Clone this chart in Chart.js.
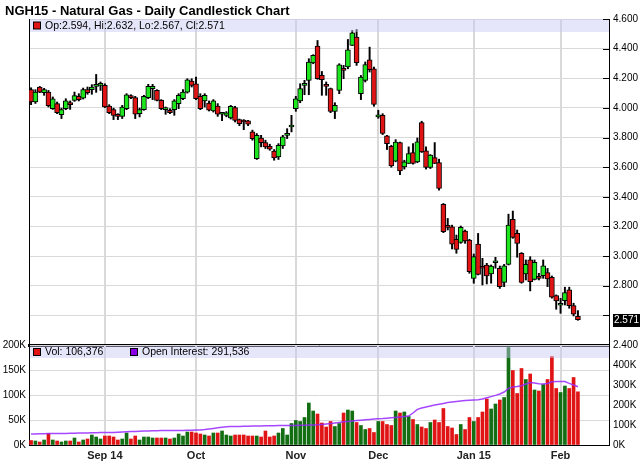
<!DOCTYPE html>
<html>
<head>
<meta charset="utf-8">
<title>NGH15 - Natural Gas - Daily Candlestick Chart</title>
<script src="https://cdn.jsdelivr.net/npm/chart.js@4.4.1/dist/chart.umd.min.js"></script>
<style>
  body { margin: 0; background: #fff; }
  #wrap { position: relative; width: 642px; height: 465px; }
  #wrap canvas { position: absolute; left: 0; top: 0; }
  #title { position: absolute; left: 5px; top: 3px; font: bold 13px "Liberation Sans", Arial, sans-serif; color: #000; white-space: nowrap; }
</style>
</head>
<body>
<div id="wrap">
  <canvas id="price" width="642" height="465"></canvas>
  <canvas id="vol" width="642" height="465"></canvas>
  <div id="title">NGH15 - Natural Gas - Daily Candlestick Chart</div>
</div>
<script>
/*- DATA (one entry per trading day, Aug 2014 .. Feb 6 2015)
-----------------------------------------------------------------------*/
const open = [
  4.123,4.040,4.141,4.103,4.107,3.995,4.029,3.955,3.995,4.035,
  4.051,4.078,4.065,4.123,4.123,4.145,4.152,4.152,4.013,3.988,
  3.950,3.943,3.995,4.078,4.069,3.961,3.988,4.069,4.130,4.119,
  4.051,3.988,3.984,3.988,4.029,4.062,4.107,4.181,4.163,4.078,
  4.047,4.033,3.979,4.013,3.957,3.950,3.932,4.002,3.921,3.916,
  3.912,3.838,3.658,3.797,3.766,3.741,3.708,3.670,3.743,3.815,
  3.871,3.995,4.047,4.152,4.186,4.303,4.417,4.220,4.157,4.130,
  3.977,4.118,4.264,4.276,4.421,4.478,4.096,4.186,4.325,4.264,
  3.939,3.950,3.811,3.741,3.640,3.766,3.602,3.625,3.699,3.636,
  3.901,3.710,3.598,3.665,3.631,3.349,3.203,3.198,3.113,3.093,
  3.169,3.108,2.850,3.081,2.925,2.940,2.880,2.955,2.918,2.823,
  2.944,3.248,3.153,3.019,2.879,2.974,2.843,2.861,2.868,2.888,
  2.857,2.734,2.668,2.700,2.772,2.666,2.594
];
const high = [
  4.136,4.123,4.145,4.132,4.118,4.074,4.040,3.999,4.062,4.047,
  4.107,4.096,4.134,4.141,4.157,4.226,4.175,4.163,4.022,3.999,
  3.961,4.017,4.096,4.089,4.078,3.999,4.085,4.159,4.159,4.123,
  4.056,4.006,3.995,4.056,4.096,4.123,4.197,4.197,4.208,4.096,
  4.096,4.047,4.056,4.029,3.968,3.975,4.017,4.011,3.925,3.921,
  3.916,3.850,3.827,3.815,3.782,3.755,3.719,3.759,3.815,3.860,
  3.950,4.078,4.163,4.186,4.332,4.359,4.455,4.246,4.175,4.134,
  4.035,4.298,4.287,4.462,4.523,4.529,4.219,4.310,4.410,4.276,
  3.984,3.961,3.815,3.748,3.786,3.770,3.647,3.737,3.759,3.797,
  3.910,3.737,3.685,3.766,3.654,3.355,3.254,3.209,3.142,3.203,
  3.176,3.113,3.014,3.153,2.985,2.951,2.940,2.992,2.933,2.944,
  3.283,3.304,3.176,3.024,2.974,2.996,2.974,2.884,2.974,2.917,
  2.866,2.738,2.715,2.790,2.790,2.682,2.632
];
const low = [
  4.022,4.030,4.103,4.085,4.006,3.990,3.961,3.928,3.988,3.990,
  4.044,4.047,4.060,4.092,4.092,4.105,4.118,4.002,3.961,3.921,
  3.921,3.928,3.988,4.062,3.928,3.939,3.984,4.062,4.056,4.047,
  3.988,3.957,3.961,3.950,3.995,4.056,4.100,4.141,4.056,3.988,
  4.006,3.979,3.972,3.943,3.914,3.940,3.925,3.905,3.880,3.853,
  3.880,3.782,3.652,3.737,3.726,3.714,3.647,3.652,3.726,3.793,
  3.838,3.977,4.035,4.089,4.089,4.298,4.193,4.085,4.085,3.968,
  3.928,4.096,4.197,4.264,4.421,4.287,4.056,4.175,4.242,4.011,
  3.930,3.820,3.719,3.600,3.636,3.550,3.587,3.625,3.620,3.630,
  3.699,3.587,3.591,3.625,3.445,3.158,3.176,3.048,3.019,3.086,
  3.086,2.884,2.817,2.873,2.805,2.812,2.817,2.918,2.782,2.794,
  2.940,3.120,2.992,2.817,2.839,2.765,2.839,2.839,2.850,2.794,
  2.716,2.641,2.614,2.670,2.648,2.596,2.567
];
const close = [
  4.040,4.107,4.107,4.123,4.015,4.062,3.968,3.988,4.047,4.022,
  4.083,4.056,4.123,4.103,4.141,4.156,4.163,4.006,3.968,3.950,
  3.943,4.006,4.089,4.069,3.957,3.988,4.078,4.145,4.145,4.051,
  3.995,3.999,3.968,4.047,4.085,4.107,4.190,4.152,4.062,3.995,
  4.085,3.984,4.047,3.957,3.963,3.966,4.011,3.916,3.894,3.905,
  3.890,3.793,3.815,3.766,3.737,3.721,3.663,3.748,3.804,3.827,
  3.882,4.062,4.130,4.163,4.309,4.354,4.197,4.190,4.145,3.977,
  4.017,4.291,4.253,4.392,4.507,4.305,4.208,4.293,4.258,4.024,
  3.950,3.827,3.759,3.609,3.770,3.575,3.636,3.692,3.625,3.771,
  3.703,3.598,3.681,3.625,3.456,3.164,3.194,3.081,3.045,3.194,
  3.102,2.895,2.996,2.877,2.918,2.866,2.933,2.957,2.794,2.935,
  3.209,3.126,3.086,2.823,2.945,2.828,2.958,2.850,2.935,2.846,
  2.722,2.698,2.682,2.754,2.666,2.608,2.571
];
// volume and open interest, in thousands of contracts
const volume = [
  9,8,6,10,23,10,8,6,8,8,
  14,6,10,12,20,16,12,18,18,16,
  10,12,24,12,18,10,16,16,14,14,
  14,14,12,14,22,18,26,26,24,22,
  20,18,24,24,28,20,18,20,20,20,
  18,18,18,16,28,16,18,24,33,20,
  43,49,47,55,84,68,62,44,36,47,
  37,43,64,70,68,45,39,31,33,25,
  47,47,41,39,68,64,66,57,51,41,
  36,33,45,50,45,73,37,34,21,41,
  31,55,47,55,66,92,72,82,90,95,
  195,149,103,153,131,142,110,108,121,131,
  177,113,105,118,113,135,106.376
];
const openInt = [
  55,55,56,56,57,57,58,58,58,59,
  59,60,60,60,61,61,62,62,62,63,
  64,65,66,67,68,69,70,70,71,71,
  72,72,72,73,73,73,74,74,75,75,
  77,80,83,86,89,91,92,93,93,94,
  94,95,95,95,96,96,96,97,97,97,
  98,98,99,99,100,100,101,103,105,107,
  110,113,116,118,120,122,124,126,128,130,
  131,132,134,136,138,140,142,145,160,178,
  185,190,195,200,204,208,212,215,218,220,
  222,224,225,226,230,236,242,248,255,265,
  283,290,292,296,305,312,310,306,305,308,
  316,318,318,317,308,300,291.536
];
// month ticks: index of the first trading day and its label
const tickIndex = [17, 38, 61, 80, 102, 122];
const tickLabels = ['Sep 14', 'Oct', 'Nov', 'Dec', 'Jan 15', 'Feb'];

/*- STYLE
-----------------------------------------------------------------------*/
const UP = '#1ee61e';
const DOWN = '#e01414';
const VOL_UP = '#136e13';
const VOL_DOWN = '#e01414';
const OI_COLOR = 'rgba(150,40,255,0.85)';
const GRID = '#d9d9d9';
const BAND = 'rgba(200,200,246,0.45)';
const FONT = '"Liberation Sans", Arial, sans-serif';
const X_MIN = -0.48, X_MAX = 133.16;

Chart.defaults.font.family = FONT;
Chart.defaults.color = '#000';

const last = close.length - 1;
const idx = close.map((_, i) => i);

function legendSquare(ctx, x, y, color) {
  ctx.fillStyle = '#000';
  ctx.fillRect(x, y - 4, 8, 8);
  ctx.fillStyle = color;
  ctx.fillRect(x + 1, y - 3, 6, 6);
}

const monthTicks = s => { s.ticks = tickIndex.map(v => ({ value: v })); };

/*- PRICE PANEL
-----------------------------------------------------------------------*/
const priceDecor = {
  id: 'priceDecor',
  afterDatasetsDraw(chart) {
    const { ctx, chartArea: a, scales } = chart;
    ctx.save();
    ctx.fillStyle = BAND;
    ctx.fillRect(a.left + 1, a.top, a.right - a.left - 1, 13);
    legendSquare(ctx, a.left + 4, a.top + 6.5, DOWN);
    ctx.fillStyle = '#000';
    ctx.font = '10.5px ' + FONT;
    ctx.textBaseline = 'middle';
    ctx.fillText('Op:' + open[last].toFixed(3) + ', Hi:' + high[last].toFixed(3) +
      ', Lo:' + low[last].toFixed(3) + ', Cl:' + close[last].toFixed(3), a.left + 16, a.top + 7);
    // short tick marks inside the right edge
    ctx.strokeStyle = '#000';
    ctx.lineWidth = 1;
    ctx.beginPath();
    scales.y.ticks.forEach(t => {
      const py = Math.round(scales.y.getPixelForValue(t.value)) + 0.5;
      ctx.moveTo(a.right - 6, py);
      ctx.lineTo(a.right, py);
    });
    ctx.stroke();
    // last price box
    const py = scales.y.getPixelForValue(close[last]);
    ctx.fillStyle = '#000';
    ctx.fillRect(a.right + 4, Math.round(py) - 6, 27, 13);
    ctx.fillStyle = '#fff';
    ctx.font = '10px ' + FONT;
    ctx.fillText(close[last].toFixed(3), a.right + 5, Math.round(py) + 0.5);
    ctx.restore();
  }
};

new Chart(document.getElementById('price'), {
  type: 'bar',
  data: {
    datasets: [
      {
        label: 'range',
        data: idx.map(i => ({ x: i, y: [low[i], high[i]] })),
        backgroundColor: '#000',
        barThickness: 1.3,
        grouped: false,
        yAxisID: 'y',
        order: 2
      },
      {
        label: 'body',
        data: idx.map(i => ({ x: i, y: [open[i], close[i]] })),
        backgroundColor: idx.map(i => close[i] >= open[i] ? UP : DOWN),
        borderColor: '#000',
        borderWidth: 1,
        borderSkipped: false,
        barThickness: 5,
        minBarLength: 2,
        grouped: false,
        yAxisID: 'y',
        order: 1
      }
    ]
  },
  options: {
    responsive: false,
    animation: false,
    layout: { padding: { top: 19, bottom: 120, left: 0, right: 0 } },
    plugins: { legend: { display: false }, tooltip: { enabled: false } },
    scales: {
      x: {
        type: 'linear', min: X_MIN, max: X_MAX, offset: false,
        afterBuildTicks: monthTicks,
        afterFit: s => { s.height = 0; },
        ticks: { display: false, autoSkip: false },
        grid: { color: GRID, lineWidth: 2, drawTicks: false, offset: false },
        border: { color: '#000', width: 3 }
      },
      y: {
        position: 'right', min: 2.4, max: 4.6,
        afterFit: s => { s.width = 33; },
        ticks: {
          stepSize: 0.2, padding: 4, font: { size: 10 },
          callback: v => Math.abs(v - close[last]) < 0.06 ? '' : Number(v).toFixed(3)
        },
        grid: { color: GRID, drawTicks: false },
        border: { color: '#000' }
      },
      yl: {
        position: 'left', display: true,
        afterFit: s => { s.width = 29; },
        ticks: { display: false },
        grid: { display: false, drawTicks: false },
        border: { color: '#000' }
      }
    }
  },
  plugins: [priceDecor]
});

/*- VOLUME / OPEN INTEREST PANEL
-----------------------------------------------------------------------*/
const volDecor = {
  id: 'volDecor',
  afterDatasetsDraw(chart) {
    const { ctx, chartArea: a } = chart;
    ctx.save();
    ctx.fillStyle = BAND;
    ctx.fillRect(a.left + 1, a.top + 1, a.right - a.left - 1, 12);
    legendSquare(ctx, a.left + 4, a.top + 7, DOWN);
    legendSquare(ctx, a.left + 101, a.top + 7, '#8a00e6');
    ctx.fillStyle = '#000';
    ctx.font = '10.5px ' + FONT;
    ctx.textBaseline = 'middle';
    ctx.fillText('Vol: ' + Math.round(volume[last] * 1000).toLocaleString('en-US'), a.left + 16, a.top + 7.5);
    ctx.fillText('Open Interest: ' + Math.round(openInt[last] * 1000).toLocaleString('en-US'), a.left + 113, a.top + 7.5);
    ctx.restore();
  }
};

new Chart(document.getElementById('vol'), {
  type: 'bar',
  data: {
    datasets: [
      {
        type: 'line',
        label: 'Open Interest',
        data: idx.map(i => ({ x: i, y: openInt[i] })),
        borderColor: OI_COLOR,
        borderWidth: 1.5,
        pointRadius: 0,
        tension: 0,
        yAxisID: 'yr',
        order: 0
      },
      {
        label: 'Vol',
        data: idx.map(i => ({ x: i, y: volume[i] })),
        backgroundColor: idx.map(i => close[i] >= open[i] ? VOL_UP : VOL_DOWN),
        barThickness: 3,
        grouped: false,
        yAxisID: 'y',
        order: 1
      }
    ]
  },
  options: {
    responsive: false,
    animation: false,
    layout: { padding: { top: 345, bottom: 0, left: 0, right: 0 } },
    plugins: { legend: { display: false }, tooltip: { enabled: false } },
    scales: {
      x: {
        type: 'linear', min: X_MIN, max: X_MAX, offset: false,
        afterBuildTicks: monthTicks,
        afterFit: s => { s.height = 20; },
        ticks: {
          autoSkip: false, maxRotation: 0, minRotation: 0, padding: 4,
          color: '#222', font: { size: 11, weight: 'bold' },
          callback: v => tickLabels[tickIndex.indexOf(v)]
        },
        grid: { color: GRID, lineWidth: 2, drawTicks: false, offset: false },
        border: { color: '#000', width: 1 }
      },
      y: {
        position: 'left', min: 0, max: 200,
        afterFit: s => { s.width = 29; },
        ticks: { stepSize: 50, padding: 3, font: { size: 10 }, callback: v => v + 'K' },
        grid: { color: GRID, drawTicks: false },
        border: { color: '#000' }
      },
      yr: {
        position: 'right', min: 0, max: 500,
        afterFit: s => { s.width = 33; },
        ticks: { stepSize: 100, padding: 4, font: { size: 10 }, callback: v => v >= 500 ? '' : v + 'K' },
        grid: { drawOnChartArea: false, drawTicks: false },
        border: { color: '#000' }
      }
    }
  },
  plugins: [volDecor]
});
</script>
</body>
</html>
